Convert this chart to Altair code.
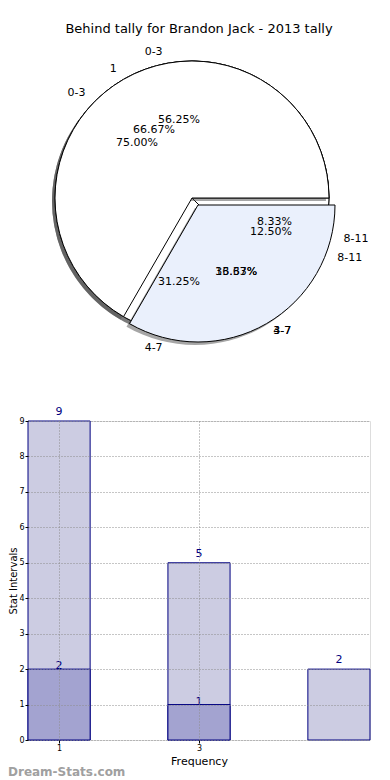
import math
import altair as alt
import pandas as pd

FONT = "DejaVu Sans"

title_text = "Behind tally for Brandon Jack - 2013 tally"

# pie data (three overlaid pies)
pie1_labels = ["0-3", "4-7", "8-11"]
pie1_pcts = [75.00, 16.67, 8.33]
pie2_labels = ["1", "3-7"]
pie2_pcts = [66.67, 33.33]
pie3_labels = ["0-3", "4-7", "8-11"]
pie3_pcts = [56.25, 31.25, 12.50]

# bar data
bar_freq = [1, 3, 5]
bar_light = [9, 5, 2]
dark_freq = [1, 3]
bar_dark = [2, 1]
y_ticks = [0, 1, 2, 3, 4, 5, 6, 7, 8, 9]
x_ticks = [1, 3]

watermark = "Dream-Stats.com"


def pie_df(pie, labels, pcts):
    return pd.DataFrame({
        "pie": pie,
        "idx": list(range(len(labels))),
        "label": labels,
        "pct": pcts,
        "pct_text": [f"{p:.2f}%" for p in pcts],
    })


pies = pd.concat([pie_df(1, pie1_labels, pie1_pcts),
                  pie_df(2, pie2_labels, pie2_pcts),
                  pie_df(3, pie3_labels, pie3_pcts)], ignore_index=True)

# layout (relative to plot-area origin of the bar chart at page (PLOT_LEFT, 421))
PLOT_LEFT = 28
CX, CY = 192 - PLOT_LEFT, -223
R = 137
EXPL_DX, EXPL_DY = 6, 7
SH_DX, SH_DY = -3, 3

theta_scale = alt.Scale(domain=[0, 100], range=[math.pi / 2, math.pi / 2 - 2 * math.pi])

pie_base = alt.Chart(pies).transform_stack(
    stack="pct", groupby=["pie"], sort=[alt.SortField("idx", order="ascending")],
    as_=["start", "end"]
).transform_calculate(
    mid="(datum.start + datum.end) / 2",
    side="cos(((datum.start + datum.end) / 2) / 100 * 2 * PI) >= 0 ? 'right' : 'left'",
)


def wedge_layer(flt, fill, dx=0, dy=0, shadow=False):
    c = pie_base.transform_filter(flt)
    if shadow:
        m = c.mark_arc(fill="#4d4d4d", opacity=0.5, outerRadius=R)
    else:
        m = c.mark_arc(fill=fill, stroke="black", strokeWidth=1, outerRadius=R)
    return m.encode(
        theta=alt.Theta("start:Q", scale=theta_scale, stack=None),
        theta2=alt.Theta2("end:Q"),
        x=alt.value(CX + dx),
        y=alt.value(CY + dy),
    )


p1 = alt.datum.pie == 1
p2a = (alt.datum.pie == 2) & (alt.datum.idx == 0)
p2b = (alt.datum.pie == 2) & (alt.datum.idx == 1)
p3 = alt.datum.pie == 3

pie_layers = [
    wedge_layer(p1, "white", SH_DX, SH_DY, shadow=True),
    wedge_layer(p1, "white"),
    wedge_layer(p3, "white", SH_DX, SH_DY, shadow=True),
    wedge_layer(p3, "white"),
    wedge_layer(p2a, "white", SH_DX, SH_DY, shadow=True),
    wedge_layer(p2b, "white", SH_DX + EXPL_DX, SH_DY + EXPL_DY, shadow=True),
    wedge_layer(p2a, "white"),
    wedge_layer(p2b, "#eaf0fc", EXPL_DX, EXPL_DY),
]


def label_layer(side, align, dx):
    return pie_base.transform_filter(alt.datum.side == side).mark_text(
        radius=R * 1.1, align=align, baseline="middle", font=FONT, fontSize=11,
        color="black", dx=dx, dy=2
    ).encode(
        theta=alt.Theta("mid:Q", scale=theta_scale, stack=None),
        text="label:N",
        x=alt.value(CX),
        y=alt.value(CY),
    )


pct_layer = pie_base.mark_text(
    radius=R * 0.6, align="center", baseline="middle", font=FONT, fontSize=11,
    color="black", dx=3, dy=3
).encode(
    theta=alt.Theta("mid:Q", scale=theta_scale, stack=None),
    text="pct_text:N",
    x=alt.value(CX),
    y=alt.value(CY),
)

# ---- bar chart ----
HALF = 0.444
x_scale = alt.Scale(domain=[1 - HALF, 5 + HALF], nice=False, zero=False)
y_scale = alt.Scale(domain=[0, 9], nice=False)

grid_kw = dict(grid=True, gridDash=[1, 2], gridColor="#8c8c8c", gridWidth=1,
               ticks=True, tickSize=3, tickColor="black", domain=False, zindex=1,
               labelFont=FONT, labelFontSize=8, labelColor="black", titleFont=FONT,
               titleFontWeight="normal", titleColor="black")
x_axis = alt.Axis(values=x_ticks, labelPadding=1, titlePadding=3, titleFontSize=11, **grid_kw)
y_axis = alt.Axis(values=y_ticks, labelPadding=1, titlePadding=0, titleFontSize=10, **grid_kw)

light_df = pd.DataFrame({"freq": bar_freq, "count": bar_light})
dark_df = pd.DataFrame({"freq": dark_freq, "count": bar_dark})


def bar_layer(df, fill):
    return alt.Chart(df).transform_calculate(
        x0=f"datum.freq - {HALF}", x1=f"datum.freq + {HALF}", base="0"
    ).mark_bar(fill=fill, stroke="#000080", strokeWidth=1).encode(
        x=alt.X("x0:Q", scale=x_scale, axis=x_axis, title="Frequency"),
        x2="x1:Q",
        y=alt.Y("count:Q", scale=y_scale, axis=y_axis, title="Stat Intervals"),
        y2="base:Q",
    )


def bar_text(df, dy):
    return alt.Chart(df).mark_text(
        baseline="bottom", dy=dy, font=FONT, fontSize=11, color="#000080"
    ).encode(
        x=alt.X("freq:Q", scale=x_scale, axis=x_axis, title="Frequency"),
        y=alt.Y("count:Q", scale=y_scale, axis=y_axis, title="Stat Intervals"),
        text="count:Q",
    )


wm = alt.Chart(pd.DataFrame({"t": [watermark]})).mark_text(
    x=-(PLOT_LEFT - 8), y=351, align="left", baseline="middle", font=FONT, fontSize=12,
    fontWeight="bold", color="#a0a0a0"
).encode(text="t:N")

chart = alt.layer(
    bar_layer(light_df, "#ccccE2"),
    bar_layer(dark_df, "#a3a3d0"),
    bar_text(light_df, -4),
    bar_text(dark_df, 2),
    *pie_layers,
    label_layer("left", "right", 0),
    label_layer("right", "left", 6),
    pct_layer,
    wm,
).properties(
    width=370 - PLOT_LEFT,
    height=319,
    title=alt.TitleParams(title_text, offset=10, anchor="middle",
                          font=FONT, fontSize=13, fontWeight="normal", color="black"),
    autosize=alt.AutoSizeParams(type="none"),
    padding={"left": PLOT_LEFT - 8, "top": 413, "right": 12, "bottom": 40},
).configure_view(stroke="black", strokeWidth=1).configure(background="white")

chart.save("out.html", embed_options={"renderer": "svg", "actions": False})
